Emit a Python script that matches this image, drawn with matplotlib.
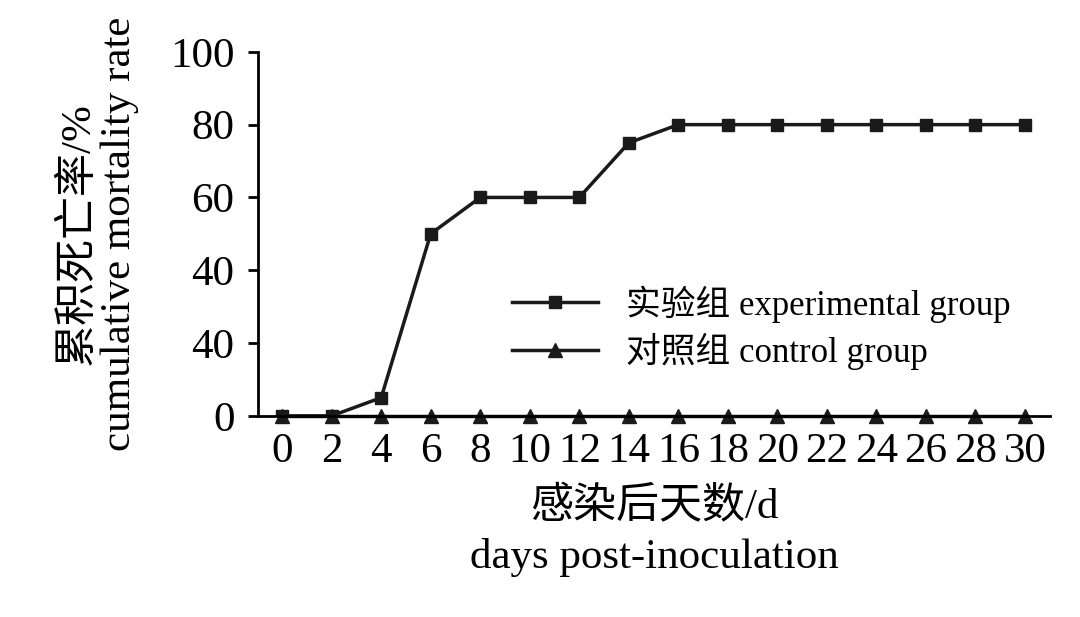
import matplotlib
matplotlib.use("Agg")
import matplotlib.pyplot as plt

days = [0,2,4,6,8,10,12,14,16,18,20,22,24,26,28,30]
experimental = [0,0,5,50,60,60,60,75,80,80,80,80,80,80,80,80]
control = [0]*16
yticks = [0,20,40,60,80,100]
ytick_labels = ["0","40","40","60","80","100"]

fam = ['Liberation Serif', 'Noto Sans CJK SC']
plt.rcParams['font.family'] = fam

fig = plt.figure(figsize=(10.8, 6.17), dpi=100)
ax = fig.add_axes([0.239, 0.326, 0.733, 0.59])
ax.plot(days, experimental, color='#1a1a1a', lw=2.5, marker='s', ms=9, label='实验组 experimental group')
ax.plot(days, control, color='#1a1a1a', lw=2.5, marker='^', ms=10, label='对照组 control group', clip_on=False)
ax.set_xlim(-0.97, 31.0)
ax.set_ylim(0, 100)
ax.set_xticks(days)
ax.set_xticklabels([str(d) for d in days])
ax.set_yticks(yticks)
ax.set_yticklabels(ytick_labels)
ax.tick_params(axis='x', direction='in', length=0, labelsize=31, pad=12)
ax.tick_params(axis='y', direction='out', length=7, width=2, labelsize=31, pad=10)
for s in ['top','right']:
    ax.spines[s].set_visible(False)
for s in ['left','bottom']:
    ax.spines[s].set_linewidth(2)
ax.set_xlabel('感染后天数/d\ndays post-inoculation', fontsize=31, linespacing=1.35, labelpad=12)
ax.set_ylabel('累积死亡率/%\ncumulative mortality rate', fontsize=31, linespacing=1.1, labelpad=22)
ax.legend(loc='lower right', bbox_to_anchor=(0.99, 0.04), frameon=False, fontsize=25,
          handlelength=2.5, labelspacing=0.3)
fig.savefig('out.png', dpi=100)
